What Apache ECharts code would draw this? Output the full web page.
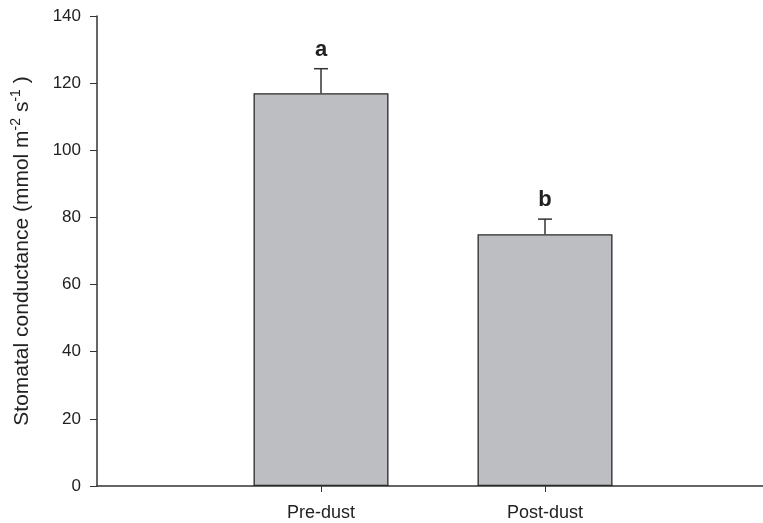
<!DOCTYPE html>
<html><head><meta charset="utf-8">
<script src="https://cdn.jsdelivr.net/npm/echarts@6/dist/echarts.min.js"></script>
<style>html,body{margin:0;padding:0;background:#fff}#c{width:763px;height:523px}</style>
</head><body><div id="c"></div>
<script>
const categories = ['Pre-dust', 'Post-dust'];
const positions = [1, 2];
const means = [117, 75];
const errors = [7.3, 4.5];
const letters = ['a', 'b'];
const yTicks = [0, 20, 40, 60, 80, 100, 120, 140];

const chart = echarts.init(document.getElementById('c'));
const font = 'Liberation Sans, Arial, sans-serif';
chart.setOption({
  animation: false,
  grid: {left: 97, right: -6, top: 16, bottom: 37, containLabel: false, outerBoundsMode: 'none'},
  xAxis: {
    type: 'value', min: 0, max: 3, interval: 1,
    splitLine: {show: false},
    axisLine: {lineStyle: {color: '#333', width: 1.5}},
    axisTick: {show: true, customValues: positions, length: 6, lineStyle: {color: '#333'}},
    axisLabel: {customValues: positions, margin: 18, color: '#222', fontSize: 18, fontFamily: font,
      formatter: v => categories[positions.indexOf(v)] || ''}
  },
  yAxis: {
    type: 'value', min: yTicks[0], max: yTicks[yTicks.length - 1], interval: 20,
    splitLine: {show: false},
    axisLine: {show: true, lineStyle: {color: '#333', width: 1.5}},
    axisTick: {show: true, inside: false, length: 7, lineStyle: {color: '#333'}},
    axisLabel: {color: '#222', fontSize: 17, fontFamily: font, margin: 16},
    name: '{a|Stomatal conductance (mmol m}{s|-2}{a| s}{s|-1}{a| )}',
    nameLocation: 'middle', nameRotate: 90, nameGap: 62,
    nameTextStyle: {
      rich: {
        a: {fontSize: 21, color: '#222', fontFamily: font},
        s: {fontSize: 14, color: '#222', fontFamily: font, padding: [0, 0, 12, 0]}
      }
    }
  },
  series: [
    {
      type: 'bar', barWidth: 135,
      data: positions.map((p, i) => [p, means[i]]),
      itemStyle: {color: '#bdbec1', borderColor: '#2a2a2a', borderWidth: 1.3}
    },
    {
      type: 'custom',
      data: positions.map((p, i) => [p, means[i], errors[i], i]),
      renderItem: (params, api) => {
        const x = api.value(0), m = api.value(1), e = api.value(2), i = api.value(3);
        const base = api.coord([x, m]);
        const top = api.coord([x, m + e]);
        const hw = 7;
        return {
          type: 'group',
          children: [
            {type: 'line', shape: {x1: base[0], y1: base[1], x2: top[0], y2: top[1]}, style: {stroke: '#333', lineWidth: 1.5}},
            {type: 'line', shape: {x1: top[0] - hw, y1: top[1], x2: top[0] + hw, y2: top[1]}, style: {stroke: '#333', lineWidth: 1.5}},
            {type: 'text', x: top[0], y: top[1] - 19, style: {text: letters[i], fill: '#222', font: 'bold 22px ' + font, align: 'center', verticalAlign: 'middle'}}
          ]
        };
      },
      z: 5
    }
  ]
});
</script></body></html>
